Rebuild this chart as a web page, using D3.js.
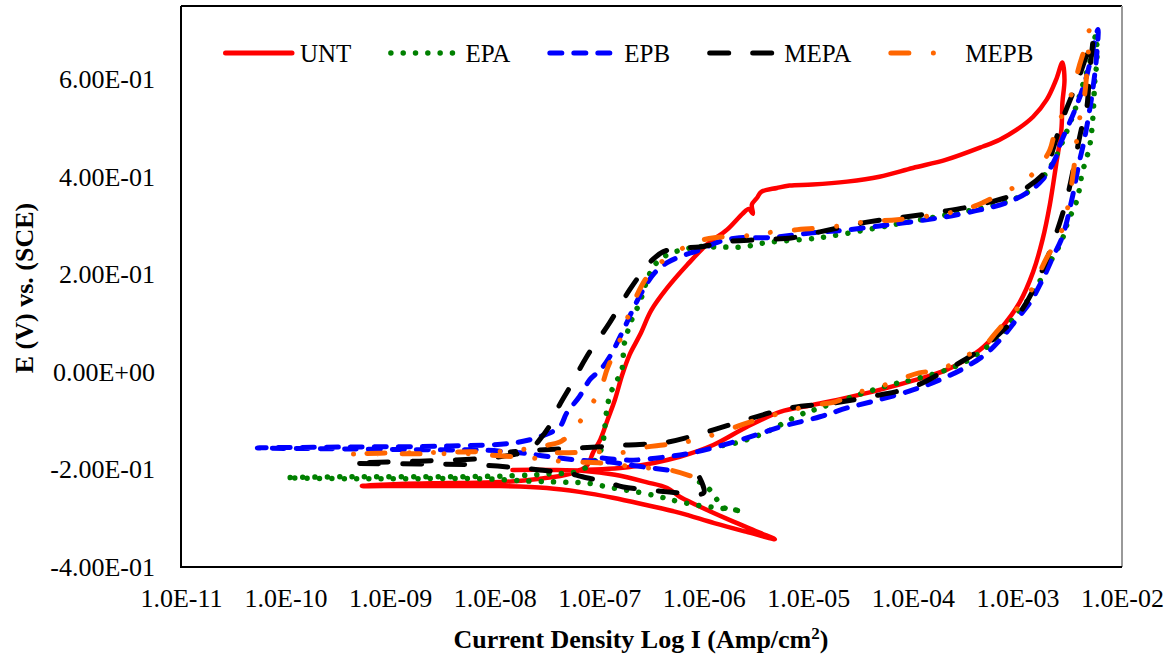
<!DOCTYPE html>
<html>
<head>
<meta charset="utf-8">
<script src="https://cdn.jsdelivr.net/npm/d3@7"></script>
<style>
  body { margin: 0; background: #fff; }
  svg { display: block; font-family: "Liberation Serif", "Times New Roman", serif; }
</style>
</head>
<body>
<div class="chart-container"></div>
<script>
// tick labels
const xTickExps = [-11, -10, -9, -8, -7, -6, -5, -4, -3, -2];
const yTicks = [-0.4, -0.2, 0, 0.2, 0.4, 0.6];

// series: [log10 I (A/cm2), E (V vs SCE)] in scan order
const unt = [[-7.83,-0.201],[-7.47,-0.201],[-7.14,-0.203],[-6.85,-0.211],[-6.55,-0.226],[-6.35,-0.238],[-6.23,-0.256],[-6.07,-0.273],[-5.75,-0.304],[-5.46,-0.330],[-5.32,-0.343],
  [-5.59,-0.328],[-5.90,-0.310],[-6.23,-0.289],[-6.55,-0.273],[-6.87,-0.258],[-7.19,-0.246],[-7.50,-0.238],[-7.95,-0.234],[-8.43,-0.234],[-8.91,-0.234],[-9.27,-0.234],
  [-8.91,-0.230],[-8.43,-0.228],[-7.95,-0.226],[-7.57,-0.219],[-7.28,-0.209],[-7.12,-0.193],
  [-7.06,-0.166],[-6.99,-0.139],[-6.92,-0.098],[-6.85,-0.057],[-6.78,-0.006],[-6.71,0.035],[-6.61,0.076],[-6.50,0.127],[-6.35,0.172],[-6.16,0.219],[-5.97,0.261],[-5.78,0.291],[-5.63,0.324],
  [-5.57,0.334],[-5.53,0.324],[-5.54,0.343],
  [-5.49,0.357],[-5.45,0.369],[-5.30,0.377],[-5.18,0.382],[-4.96,0.384],[-4.63,0.390],[-4.32,0.400],[-4.00,0.418],[-3.68,0.435],[-3.33,0.462],[-3.17,0.476],[-3.01,0.496],[-2.85,0.523],[-2.72,0.558],[-2.63,0.599],[-2.57,0.634],
  [-2.55,0.599],[-2.57,0.552],[-2.58,0.496],[-2.63,0.425],[-2.69,0.343],[-2.76,0.271],[-2.85,0.205],[-2.98,0.142],[-3.17,0.086],[-3.36,0.045],[-3.68,0.004],[-4.00,-0.018],[-4.32,-0.037],[-4.63,-0.053],[-4.96,-0.068],[-5.27,-0.082],[-5.59,-0.113],[-5.91,-0.150],[-6.23,-0.174],[-6.71,-0.195],[-7.19,-0.201]];

const epa = [[-6.04,-0.226],[-5.94,-0.242],[-5.87,-0.263],[-5.80,-0.279],[-5.63,-0.285],[-5.85,-0.279],[-6.07,-0.273],[-6.30,-0.263],[-6.42,-0.256],[-6.64,-0.246],[-6.87,-0.238],[-7.12,-0.228],[-7.35,-0.226],[-7.66,-0.224],[-8.14,-0.219],[-8.91,-0.219],[-9.38,-0.219],[-9.99,-0.217],
  [-9.38,-0.215],[-8.43,-0.215],[-7.83,-0.213],[-7.47,-0.209],[-7.19,-0.203],[-7.02,-0.176],[-6.96,-0.139],[-6.94,-0.098],[-6.92,-0.068],[-6.89,-0.043],[-6.84,-0.021],[-6.79,0.000],[-6.77,0.025],[-6.77,0.049],[-6.74,0.072],[-6.71,0.096],[-6.61,0.144],[-6.55,0.183],[-6.49,0.213],[-6.42,0.230],[-6.31,0.244],[-6.20,0.250],[-6.09,0.256],[-5.85,0.256],[-5.63,0.256],[-5.40,0.265],[-4.89,0.275],[-4.35,0.295],[-4.03,0.308],[-3.77,0.318],[-3.58,0.326],[-3.33,0.336],[-3.10,0.349],[-2.91,0.367],[-2.76,0.398],[-2.66,0.429],[-2.58,0.466],[-2.45,0.537],[-2.36,0.599],[-2.29,0.650],[-2.25,0.691],
  [-2.24,0.640],[-2.26,0.595],[-2.28,0.517],[-2.31,0.462],[-2.38,0.408],[-2.43,0.353],[-2.52,0.306],[-2.58,0.267],[-2.72,0.213],[-2.85,0.162],[-3.05,0.107],[-3.17,0.070],[-3.29,0.051],[-3.46,0.025],[-3.68,0.004],[-4.00,-0.016],[-4.22,-0.027],[-4.58,-0.051],[-4.89,-0.074],[-5.08,-0.088],[-5.40,-0.123],[-5.66,-0.144],[-5.85,-0.152]];

const epb = [[-6.35,-0.201],[-6.64,-0.193],[-6.90,-0.185],[-7.19,-0.181],[-7.47,-0.174],[-7.76,-0.166],[-8.14,-0.160],[-8.43,-0.160],[-9.38,-0.158],[-10.27,-0.156],
  [-9.38,-0.154],[-8.43,-0.152],[-7.83,-0.146],[-7.57,-0.133],[-7.38,-0.113],[-7.31,-0.084],[-7.19,-0.051],[-7.09,-0.016],[-6.99,0.004],[-6.90,0.031],[-6.76,0.090],[-6.68,0.127],[-6.58,0.168],[-6.47,0.203],[-6.35,0.224],[-6.23,0.236],[-6.04,0.250],[-5.85,0.267],[-5.66,0.275],[-5.40,0.275],[-4.96,0.285],[-4.63,0.291],[-4.32,0.299],[-4.00,0.308],[-3.68,0.318],[-3.36,0.332],[-3.10,0.347],[-2.91,0.367],[-2.76,0.394],[-2.63,0.441],[-2.60,0.462],[-2.45,0.537],[-2.34,0.605],[-2.23,0.702],
  [-2.24,0.654],[-2.28,0.578],[-2.36,0.476],[-2.41,0.429],[-2.48,0.353],[-2.57,0.277],[-2.66,0.236],[-2.76,0.189],[-2.88,0.142],[-3.01,0.107],[-3.14,0.072],[-3.29,0.039],[-3.49,0.010],[-3.74,-0.016],[-4.00,-0.037],[-4.32,-0.057],[-4.63,-0.074],[-4.89,-0.092],[-5.27,-0.113],[-5.44,-0.125],[-5.75,-0.146],[-6.07,-0.164],[-6.35,-0.174],[-6.71,-0.181],[-6.99,-0.176]];

const mepa = [[-6.04,-0.217],[-6.00,-0.248],[-6.23,-0.248],[-6.35,-0.246],[-6.52,-0.242],[-6.77,-0.236],[-6.93,-0.226],[-7.16,-0.215],[-7.31,-0.207],[-7.57,-0.201],[-7.76,-0.197],[-8.14,-0.191],[-8.72,-0.189],[-9.36,-0.187],
  [-8.72,-0.183],[-8.14,-0.178],[-7.83,-0.170],[-7.66,-0.160],[-7.57,-0.139],[-7.47,-0.109],[-7.38,-0.068],[-7.28,-0.031],[-7.12,0.031],[-6.90,0.101],[-6.71,0.168],[-6.56,0.213],[-6.49,0.230],[-6.39,0.246],[-6.23,0.254],[-6.04,0.256],[-5.78,0.267],[-5.46,0.271],[-5.15,0.275],[-4.89,0.287],[-4.41,0.308],[-4.06,0.318],[-3.74,0.328],[-3.36,0.343],[-2.98,0.369],[-2.72,0.414],[-2.69,0.435],[-2.57,0.517],[-2.43,0.593],[-2.31,0.667],[-2.28,0.685],
  [-2.31,0.613],[-2.34,0.537],[-2.39,0.496],[-2.53,0.353],[-2.66,0.265],[-2.79,0.195],[-2.98,0.121],[-3.36,0.045],[-3.68,0.004],[-4.00,-0.031],[-4.41,-0.051],[-4.77,-0.064],[-5.18,-0.074],[-5.59,-0.098],[-5.97,-0.123],[-6.35,-0.144],[-6.74,-0.150],[-7.19,-0.156],[-7.57,-0.160],[-7.85,-0.164]];

const mepb = [[-6.13,-0.213],[-6.33,-0.201],[-6.54,-0.197],[-6.74,-0.193],[-6.97,-0.187],[-7.16,-0.185],[-7.38,-0.183],[-7.57,-0.178],[-7.95,-0.172],[-8.24,-0.168],[-8.62,-0.168],[-8.91,-0.168],[-9.40,-0.168],
  [-8.91,-0.166],[-8.24,-0.164],[-7.85,-0.162],[-7.54,-0.152],[-7.36,-0.142],[-7.21,-0.109],[-7.09,-0.072],[-6.99,-0.037],[-6.92,0.008],[-6.80,0.066],[-6.69,0.133],[-6.56,0.189],[-6.47,0.213],[-6.35,0.234],[-6.18,0.256],[-6.07,0.267],[-5.90,0.275],[-5.59,0.279],[-5.40,0.285],[-5.13,0.291],[-4.78,0.297],[-4.44,0.308],[-4.15,0.312],[-3.84,0.320],[-3.52,0.332],[-3.33,0.347],[-3.14,0.367],[-2.95,0.388],[-2.79,0.421],[-2.69,0.455],[-2.63,0.501],[-2.53,0.544],[-2.47,0.578],[-2.41,0.626],[-2.34,0.675],[-2.31,0.702],
  [-2.33,0.634],[-2.36,0.564],[-2.42,0.503],[-2.45,0.435],[-2.53,0.326],[-2.60,0.277],[-2.72,0.234],[-2.82,0.189],[-2.91,0.152],[-3.06,0.117],[-3.20,0.082],[-3.33,0.051],[-3.53,0.029],[-3.74,0.004],[-3.94,-0.002],[-4.13,-0.016],[-4.35,-0.033],[-4.54,-0.043],[-4.75,-0.062],[-4.96,-0.068],[-5.15,-0.078],[-5.59,-0.105],[-5.72,-0.115],[-5.97,-0.133],[-6.23,-0.146],[-6.39,-0.150],[-6.61,-0.156],[-6.80,-0.166],[-6.99,-0.164],[-7.35,-0.166],[-7.57,-0.164]];

const seriesNames = ["UNT", "EPA", "EPB", "MEPA", "MEPB"];
const seriesData = [unt, epa, epb, mepa, mepb];
const seriesColors = ["#ff0000", "#008000", "#0000ff", "#000000", "#ff6600"];
const seriesDash = [null, "0.01,12.3", "12,12", "19,24", "18,24.5,0.01,24,0.01,24"];

// chart dimensions
const width = 1175;
const height = 659;
const marginTop = 6;
const marginRight = 53;
const marginBottom = 92;
const marginLeft = 181;

// E-notation like Excel: 6.00E-01
function fmtE(v, digits) {
    let [m, e] = v.toExponential(digits).split("e");
    const sign = e[0] === "-" ? "-" : "+";
    e = e.replace(/[+-]/, "");
    return `${m}E${sign}${e.padStart(2, "0")}`;
}

const x = d3.scaleLog()
    .domain([1e-11, 1e-2])
    .range([marginLeft, width - marginRight]);

const y = d3.scaleLinear()
    .domain([-0.4, 0.75])
    .range([height - marginBottom, marginTop]);

const svg = d3.select(".chart-container").append("svg")
    .attr("width", width)
    .attr("height", height);

svg.append("rect").attr("width", width).attr("height", height).attr("fill", "#fff");

// x-axis (no tick marks)
svg.append("g")
    .attr("transform", `translate(0,${height - marginBottom})`)
    .call(d3.axisBottom(x)
        .tickValues(xTickExps.map(e => Math.pow(10, e)))
        .tickSize(0)
        .tickPadding(22)
        .tickFormat(d => fmtE(d, 1)))
    .call(g => g.select(".domain").remove())
    .call(g => g.selectAll("text")
        .attr("font-family", "Liberation Serif, serif")
        .attr("font-size", 26)
        .attr("fill", "#000"));

// y-axis
svg.append("g")
    .attr("transform", `translate(${marginLeft},0)`)
    .call(d3.axisLeft(y)
        .tickValues(yTicks)
        .tickSize(0)
        .tickPadding(26)
        .tickFormat(d => fmtE(d, 2)))
    .call(g => g.select(".domain").remove())
    .call(g => g.selectAll("text")
        .attr("font-family", "Liberation Serif, serif")
        .attr("font-size", 26)
        .attr("fill", "#000"));

// series
const line = d3.line()
    .curve(d3.curveCatmullRom.alpha(0.5))
    .x(d => x(Math.pow(10, d[0])))
    .y(d => y(d[1]));

seriesData.forEach((data, i) => {
    svg.append("path")
        .datum(data)
        .attr("fill", "none")
        .attr("stroke", seriesColors[i])
        .attr("stroke-width", i === 0 ? 4.5 : (i === 1 ? 5.5 : 5))
        .attr("stroke-linecap", "round")
        .attr("stroke-linejoin", "round")
        .attr("stroke-dasharray", seriesDash[i])
        .attr("d", line);
});

// plot frame
const x0 = marginLeft, x1 = width - marginRight;
const y0 = marginTop, y1 = height - marginBottom;
svg.append("line").attr("x1", x0).attr("x2", x1).attr("y1", y0).attr("y2", y0)
    .attr("stroke", "#000").attr("stroke-width", 2);
svg.append("line").attr("x1", x1).attr("x2", x1).attr("y1", y0).attr("y2", y1)
    .attr("stroke", "#999").attr("stroke-width", 2);
svg.append("line").attr("x1", x0).attr("x2", x0).attr("y1", y0).attr("y2", y1 + 1)
    .attr("stroke", "#000").attr("stroke-width", 2);
svg.append("line").attr("x1", x0).attr("x2", x1).attr("y1", y1).attr("y2", y1)
    .attr("stroke", "#000").attr("stroke-width", 2);

// legend
const legend = svg.append("g").attr("font-size", 25);
let lx = 223;
const ly = 53;
seriesNames.forEach((name, i) => {
    legend.append("line")
        .attr("x1", lx + 2.5).attr("x2", lx + 69)
        .attr("y1", ly).attr("y2", ly)
        .attr("stroke", seriesColors[i])
        .attr("stroke-width", i === 1 ? 5.5 : 5)
        .attr("stroke-linecap", "round")
        .attr("stroke-dasharray", seriesDash[i]);
    const t = legend.append("text")
        .attr("x", lx + 77).attr("y", ly + 9)
        .attr("fill", "#000")
        .text(name);
    lx = lx + 77 + t.node().getComputedTextLength() + 37;
});

// axis titles
svg.append("text")
    .attr("x", 641).attr("y", 648)
    .attr("text-anchor", "middle")
    .attr("font-weight", "bold")
    .attr("font-size", 26)
    .html('Current Density Log I (Amp/cm<tspan dy="-9" font-size="17">2</tspan><tspan dy="9">)</tspan>');

svg.append("text")
    .attr("transform", "translate(33,288) rotate(-90)")
    .attr("text-anchor", "middle")
    .attr("font-weight", "bold")
    .attr("font-size", 26)
    .text("E (V) vs. (SCE)");
</script>
</body>
</html>
